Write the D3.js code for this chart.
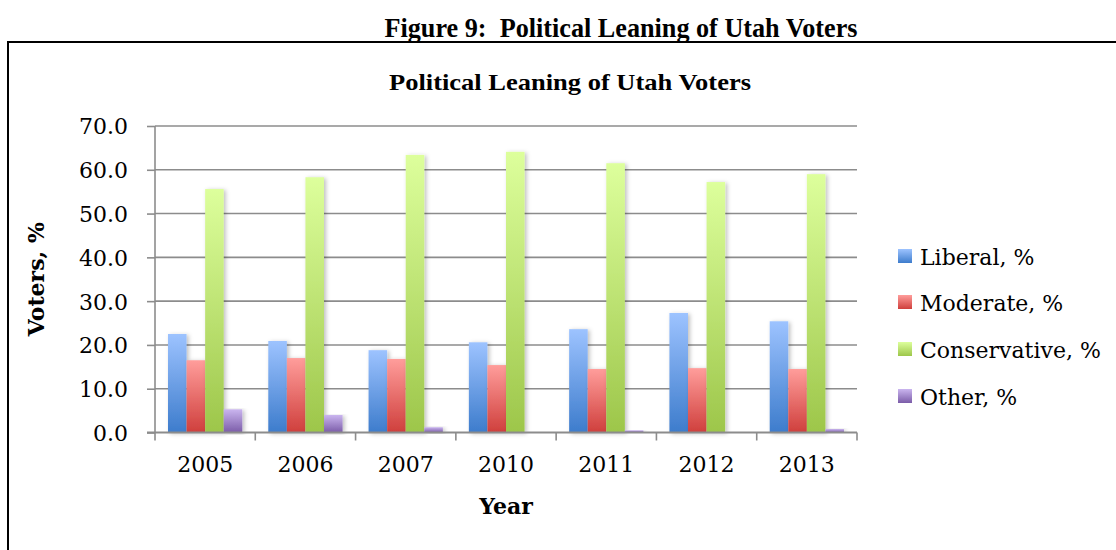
<!DOCTYPE html>
<html>
<head>
<meta charset="utf-8">
<script src="https://cdn.jsdelivr.net/npm/d3@7"></script>
<style>
  html, body { margin: 0; padding: 0; background: #fff; }
  svg { display: block; }
</style>
</head>
<body>
<svg id="chart" width="1116" height="550"></svg>
<script>
// ---- data ----
const years = ["2005", "2006", "2007", "2010", "2011", "2012", "2013"];
const seriesNames = ["Liberal, %", "Moderate, %", "Conservative, %", "Other, %"];
const liberal      = [22.5, 20.9, 18.8, 20.6, 23.6, 27.3, 25.4];
const moderate     = [16.5, 17.0, 16.8, 15.4, 14.5, 14.7, 14.5];
const conservative = [55.6, 58.3, 63.4, 64.1, 61.5, 57.2, 59.0];
const other        = [5.3, 4.0, 1.2, 0.0, 0.5, 0.0, 0.8];
const yTicks = [0, 10, 20, 30, 40, 50, 60, 70];
const figureTitle = "Figure 9:  Political Leaning of Utah Voters";
const chartTitle = "Political Leaning of Utah Voters";
const xTitle = "Year";
const yTitle = "Voters, %";

const seriesValues = [liberal, moderate, conservative, other];
const gradStops = [
  ["#9dc3ff", "#3d7ccc"],
  ["#ff9d9b", "#cf3f3c"],
  ["#ddff9c", "#9dc64a"],
  ["#cab5ef", "#7b5ca8"]
];

const svg = d3.select("#chart");
const defs = svg.append("defs");
gradStops.forEach((s, i) => {
  const g = defs.append("linearGradient").attr("id", "grad" + i)
    .attr("x1", 0).attr("y1", 0).attr("x2", 0).attr("y2", 1);
  g.append("stop").attr("offset", "0%").attr("stop-color", s[0]);
  g.append("stop").attr("offset", "100%").attr("stop-color", s[1]);
});
const f = defs.append("filter").attr("id", "shadow")
  .attr("x", "-20%").attr("y", "-5%").attr("width", "160%").attr("height", "115%");
f.append("feDropShadow").attr("dx", 2).attr("dy", 1).attr("stdDeviation", 2)
  .attr("flood-color", "#000").attr("flood-opacity", 0.25);

// frame
svg.append("path")
  .attr("d", "M8,552 L8,42 L1118,42")
  .attr("fill", "none").attr("stroke", "#000").attr("stroke-width", 2);

// titles
svg.append("text").attr("x", 621).attr("y", 37)
  .attr("text-anchor", "middle")
  .style("white-space", "pre")
  .style("font-family", "'Liberation Serif', 'Times New Roman', serif")
  .style("font-weight", "bold").style("font-size", "27px")
  .attr("textLength", 473).attr("lengthAdjust", "spacingAndGlyphs")
  .text(figureTitle);
svg.append("text").attr("x", 570).attr("y", 90)
  .attr("text-anchor", "middle")
  .style("font-family", "'Liberation Serif', 'Times New Roman', serif")
  .style("font-weight", "bold").style("font-size", "24px")
  .attr("textLength", 362).attr("lengthAdjust", "spacingAndGlyphs")
  .text(chartTitle);

// scales
const x = d3.scaleBand().domain(years).range([155, 857]).paddingInner(0).paddingOuter(0);
const xs = d3.scaleBand().domain(d3.range(seriesNames.length)).range([0, x.bandwidth()])
  .paddingInner(0).paddingOuter(0.7);
const y = d3.scaleLinear().domain([0, 70]).range([432.5, 126]);

const labelFont = "'DejaVu Serif', serif";

// gridlines
svg.append("g").selectAll("line").data(yTicks.slice(1)).join("line")
  .attr("x1", 155).attr("x2", 857)
  .attr("y1", d => y(d)).attr("y2", d => y(d))
  .attr("stroke", "#8c8c8c").attr("stroke-width", 1.6);

// bars
const gBars = svg.append("g");
years.forEach((yr, i) => {
  seriesValues.forEach((vals, s) => {
    const v = vals[i];
    if (v <= 0) return;
    gBars.append("rect")
      .attr("x", x(yr) + xs(s))
      .attr("y", y(v))
      .attr("width", xs.bandwidth())
      .attr("height", y(0) - y(v))
      .attr("fill", `url(#grad${s})`)
      .attr("filter", "url(#shadow)");
  });
});

// y axis
const yAxis = d3.axisLeft(y).tickValues(yTicks).tickFormat(d3.format(".1f"))
  .tickSize(8).tickPadding(19);
const gy = svg.append("g").attr("transform", "translate(155,0)").call(yAxis);
gy.select(".domain").attr("stroke", "#8c8c8c").attr("stroke-width", 1.6)
  .attr("d", `M-0,${y(70)}V${y(0)}`);
gy.selectAll(".tick line").attr("stroke", "#8c8c8c").attr("stroke-width", 1.6);
gy.selectAll(".tick text").style("font-family", labelFont).style("font-size", "22px")
  .attr("fill", "#000").attr("dy", "0.36em");

// x axis
const xAxis = d3.axisBottom(x).tickSize(0).tickPadding(24);
const gx = svg.append("g").attr("transform", `translate(0,${y(0)})`).call(xAxis);
gx.select(".domain").attr("stroke", "#8c8c8c").attr("stroke-width", 2)
  .attr("d", `M147,0H857`);
gx.selectAll(".tick text").style("font-family", labelFont).style("font-size", "22px")
  .attr("fill", "#000");
// category boundary ticks
const bounds = years.map(d => x(d)).concat([x(years[years.length - 1]) + x.bandwidth()]);
gx.append("g").selectAll("line").data(bounds).join("line")
  .attr("x1", d => d).attr("x2", d => d).attr("y1", 0).attr("y2", 8)
  .attr("stroke", "#8c8c8c").attr("stroke-width", 1.6);

// axis titles
svg.append("text").attr("x", 506).attr("y", 514).attr("text-anchor", "middle")
  .style("font-family", labelFont).style("font-weight", "bold").style("font-size", "22px")
  .text(xTitle);
svg.append("text").attr("transform", `translate(44,${(y(0) + y(70)) / 2}) rotate(-90)`)
  .attr("text-anchor", "middle")
  .style("font-family", labelFont).style("font-weight", "bold").style("font-size", "22px")
  .text(yTitle);

// legend
const legend = svg.append("g");
const rowY = [257, 303, 350, 397];
seriesNames.forEach((name, i) => {
  legend.append("rect").attr("x", 898).attr("y", rowY[i] - 8).attr("width", 14).attr("height", 14)
    .attr("fill", `url(#grad${i})`);
  legend.append("text").attr("x", 920).attr("y", rowY[i]).attr("dy", "0.35em")
    .style("font-family", labelFont).style("font-size", "22px").text(name);
});
</script>
</body>
</html>
